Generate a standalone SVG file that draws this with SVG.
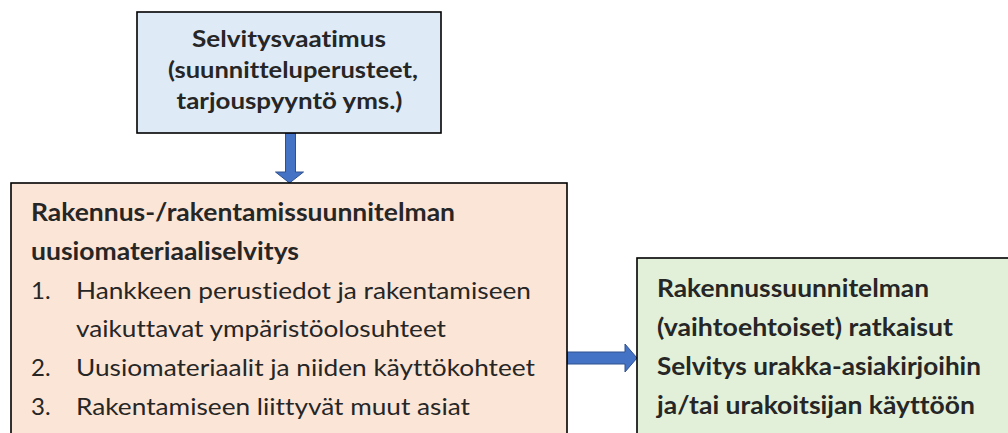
<svg xmlns="http://www.w3.org/2000/svg" width="1008" height="433" viewBox="0 0 1008 433">
<style>
text{font-variant-ligatures:none;font-feature-settings:"liga" 0,"dlig" 0}
.box{stroke:#000;stroke-width:1.6}
.b{font-family:Lato,"Liberation Sans",sans-serif;font-weight:bold;font-size:24px;fill:#262626}
.r{font-family:Lato,"Liberation Sans",sans-serif;font-size:24px;fill:#262626}
.arrow{fill:#4472C4;stroke:#2F528F;stroke-width:1}
</style>
<rect width="1008" height="433" fill="#fff"/>
<g id="connectors">
<path class="arrow" d="M285.5,133 L295.5,133 L295.5,172 L303.5,172 L289.5,183 L275.5,172 L285.5,172 Z"/>
<path class="arrow" d="M567,352 L625,352 L625,344 L637,358 L625,372 L625,364 L567,364 Z"/>
</g>
<g id="node-selvitysvaatimus">
<rect class="box" x="137" y="12" width="304" height="121" fill="#DEEBF7"/>
<text class="b" style="font-size:23px" x="289" y="46.5" text-anchor="middle" textLength="194" lengthAdjust="spacingAndGlyphs">Selvitysvaatimus</text>
<text class="b" style="font-size:23px" x="293" y="77.5" text-anchor="middle" textLength="250" lengthAdjust="spacingAndGlyphs">(suunnitteluperusteet,</text>
<text class="b" style="font-size:23px" x="289.5" y="108.5" text-anchor="middle" textLength="226" lengthAdjust="spacingAndGlyphs">tarjouspyyntö yms.)</text>
</g>
<g id="node-uusiomateriaaliselvitys">
<rect class="box" x="11" y="183" width="556" height="260" fill="#FBE5D6"/>
<text class="b" x="31" y="221" textLength="424" lengthAdjust="spacingAndGlyphs">Rakennus-/rakentamissuunnitelman</text>
<text class="b" x="31" y="259.8" textLength="268" lengthAdjust="spacingAndGlyphs">uusiomateriaaliselvitys</text>
<text class="r" x="31" y="298.6">1.</text>
<text class="r" x="76" y="298.6" textLength="455" lengthAdjust="spacingAndGlyphs">Hankkeen perustiedot ja rakentamiseen</text>
<text class="r" x="76" y="337.4" textLength="370" lengthAdjust="spacingAndGlyphs">vaikuttavat ympäristöolosuhteet</text>
<text class="r" x="31" y="376.2">2.</text>
<text class="r" x="76" y="376.2" textLength="459" lengthAdjust="spacingAndGlyphs">Uusiomateriaalit ja niiden käyttökohteet</text>
<text class="r" x="31" y="415">3.</text>
<text class="r" x="76" y="415" textLength="394" lengthAdjust="spacingAndGlyphs">Rakentamiseen liittyvät muut asiat</text>
</g>
<g id="node-rakennussuunnitelma">
<rect class="box" x="637" y="258" width="380" height="185" fill="#E2F0D9"/>
<text class="b" x="657" y="297" textLength="272" lengthAdjust="spacingAndGlyphs">Rakennussuunnitelman</text>
<text class="b" x="657" y="336" textLength="296" lengthAdjust="spacingAndGlyphs">(vaihtoehtoiset) ratkaisut</text>
<text class="b" x="657" y="375" textLength="324" lengthAdjust="spacingAndGlyphs">Selvitys urakka-asiakirjoihin</text>
<text class="b" x="657" y="414" textLength="318" lengthAdjust="spacingAndGlyphs">ja/tai urakoitsijan käyttöön</text>
</g>
</svg>
